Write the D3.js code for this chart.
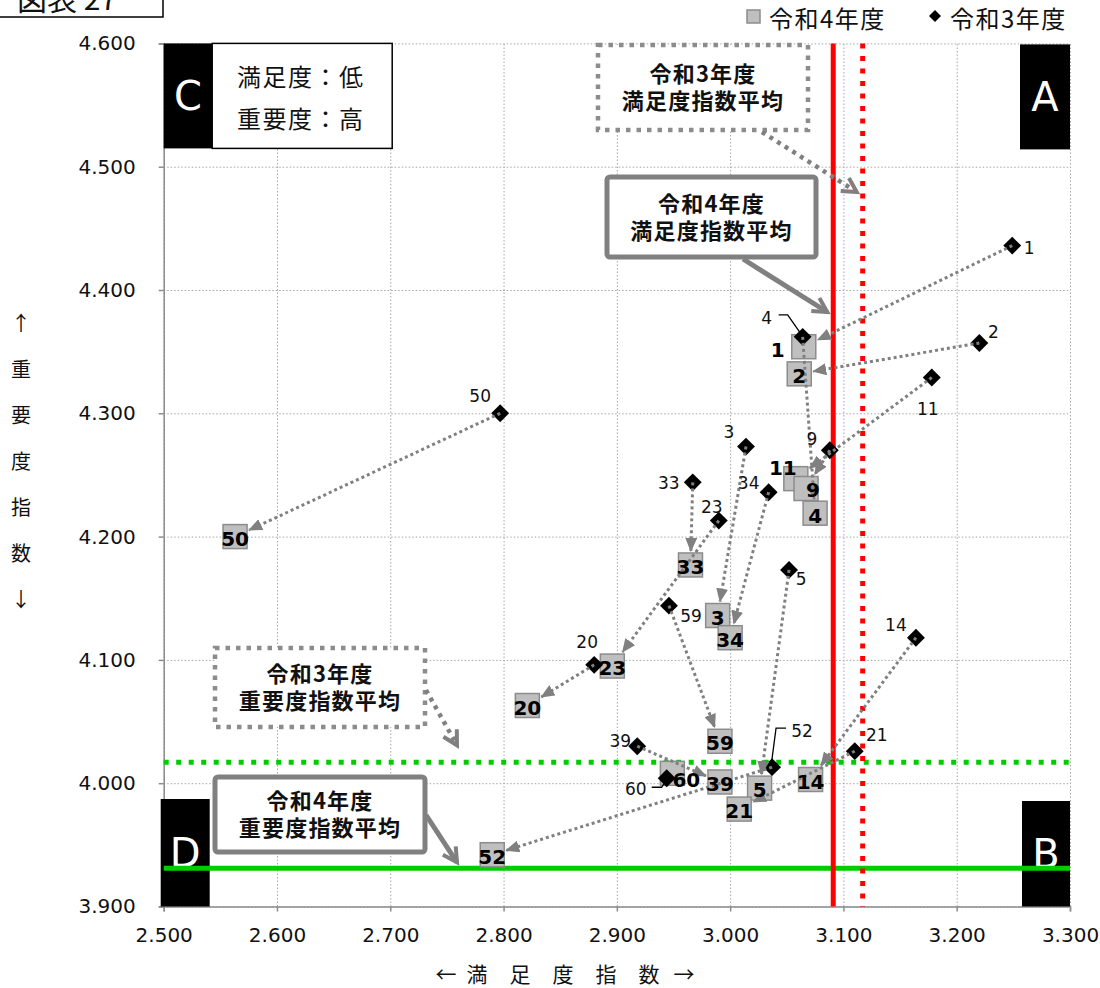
<!DOCTYPE html>
<html><head><meta charset="utf-8">
<script src="https://cdn.jsdelivr.net/npm/d3@7"></script>
<style>
html,body{margin:0;padding:0;background:#fff;}
svg{display:block;}
</style></head>
<body>
<svg id="chart" width="1100" height="988"></svg>
<script>
// ---------- data ----------
const ids   = ["1","2","11","4","9","3","34","33","23","5","59","20","50","14","21","52","39","60"];
const r3Sat = [3.249,3.220,3.178,3.064,3.088,3.014,3.034,2.967,2.990,3.052,2.946,2.880,2.797,3.164,3.110,3.037,2.918,2.944];
const r3Imp = [4.436,4.357,4.329,4.362,4.270,4.273,4.236,4.244,4.213,4.173,4.144,4.096,4.300,4.118,4.026,4.013,4.030,4.004];
const r4Sat = [3.065,3.061,3.058,3.075,3.067,2.989,3.000,2.965,2.896,3.026,2.991,2.821,2.563,3.071,3.008,2.790,2.991,2.949];
const r4Imp = [4.354,4.332,4.247,4.219,4.239,4.136,4.118,4.177,4.095,3.996,4.034,4.063,4.200,4.003,3.979,3.942,4.001,4.008];
const meanSatR4 = 3.091, meanSatR3 = 3.117;
const meanImpR4 = 3.931, meanImpR3 = 4.017;
const xTicks = [2.5,2.6,2.7,2.8,2.9,3.0,3.1,3.2,3.3];
const yTicks = [3.9,4.0,4.1,4.2,4.3,4.4,4.5,4.6];
const legendLabels = ["令和4年度","令和3年度"];
const xTitleChars = ["←","満","足","度","指","数","→"];
const yTitleChars = ["↑","重","要","度","指","数","↓"];
const figTitle = "図表 27";

// ---------- layout / style ----------
const L = 163.7, R = 1070, T = 43.4, B = 906.5;
const JP = "'Noto Sans CJK JP','Noto Sans',sans-serif";
const NUM = "'DejaVu Sans',Verdana,sans-serif";
const GRAY = "#808080";
const GREEN = "#00cc00", RED = "#ff0000";

// label offsets (pixels) relative to marker centre
const dLab = {"1":[17,2],"2":[14,-11],"11":[-4,31],"4":[-36,-19],"9":[-18,-11],"3":[-17,-15],"34":[-20,-9],
  "33":[-24,1],"23":[-7,-14],"5":[12,9],"59":[22,10],"20":[-7,-23],"50":[-20,-17],"14":[-20,-13],
  "21":[22,-16],"52":[30,-36],"39":[-17,-5],"60":[-31,11]};
const dLeader = {"4":[[-24,-22],[-15,-22],[-1,-2]],"52":[[14,-39],[4,-39],[-1,-1]],"60":[[-15,9],[-5,9],[0,1]]};
const sLab = {"1":[-26,3],"11":[-13,-11],"9":[7,1],"4":[0,3],"60":[14,7]};

const svg = d3.select("#chart");
const x = d3.scaleLinear().domain([2.5,3.3]).range([L,R]);
const y = d3.scaleLinear().domain([3.9,4.6]).range([B,T]);

// gridlines
svg.append("g").attr("transform",`translate(0,${B})`)
  .call(d3.axisBottom(x).tickValues(xTicks).tickSize(-(B-T)).tickFormat(""))
  .call(g=>g.select(".domain").remove())
  .selectAll("line").attr("stroke","#a6a6a6").attr("stroke-width",1).attr("stroke-dasharray","1.5,2");
svg.append("g").attr("transform",`translate(${L},0)`)
  .call(d3.axisLeft(y).tickValues(yTicks).tickSize(-(R-L)).tickFormat(""))
  .call(g=>g.select(".domain").remove())
  .selectAll("line").attr("stroke","#a6a6a6").attr("stroke-width",1).attr("stroke-dasharray","1.5,2");

// axes
const xa = svg.append("g").attr("transform",`translate(0,${B})`)
  .call(d3.axisBottom(x).tickValues(xTicks).tickSize(5).tickPadding(16).tickFormat(d3.format(".3f")));
const ya = svg.append("g").attr("transform",`translate(${L},0)`)
  .call(d3.axisLeft(y).tickValues(yTicks).tickSize(5).tickPadding(23).tickFormat(d3.format(".3f")));
[xa,ya].forEach(a=>{
  a.select(".domain").attr("stroke","#8c8c8c").attr("stroke-width",1.5);
  a.selectAll(".tick line").attr("stroke","#8c8c8c").attr("stroke-width",1.5);
  a.selectAll("text").attr("font-family",NUM).attr("font-size",20).attr("fill","#111");
});

// quadrant labels
function quad(letter,x0,y0,w,h){
  svg.append("rect").attr("x",x0).attr("y",y0).attr("width",w).attr("height",h).attr("fill","#000");
  svg.append("text").attr("x",x0+w/2).attr("y",y0+h/2).attr("text-anchor","middle")
    .attr("dominant-baseline","central").attr("fill","#fff").attr("font-family",NUM)
    .attr("font-size",40).text(letter);
}
quad("C",L,T,48.5,105);
svg.append("rect").attr("x",L+48.5).attr("y",T).attr("width",180).attr("height",105)
  .attr("fill","#fff").attr("stroke","#000").attr("stroke-width",1.5);
svg.append("text").attr("x",237).attr("y",75).attr("dominant-baseline","central")
  .attr("font-family",JP).attr("font-size",24).attr("letter-spacing",1.5).attr("fill","#111").text("満足度：低");
svg.append("text").attr("x",237).attr("y",117).attr("dominant-baseline","central")
  .attr("font-family",JP).attr("font-size",24).attr("letter-spacing",1.5).attr("fill","#111").text("重要度：高");
quad("A",1020,T+1,R-1020,105);
quad("D",L-3,799,49,B-799);
quad("B",1022,801,R-1022,B-801);

// mean lines
svg.append("line").attr("x1",L).attr("x2",R).attr("y1",y(meanImpR4)).attr("y2",y(meanImpR4))
  .attr("stroke",GREEN).attr("stroke-width",5);
svg.append("line").attr("x1",L).attr("x2",R).attr("y1",y(meanImpR3)).attr("y2",y(meanImpR3))
  .attr("stroke",GREEN).attr("stroke-width",5).attr("stroke-dasharray","5,7.5");
svg.append("line").attr("x1",x(meanSatR4)).attr("x2",x(meanSatR4)).attr("y1",T).attr("y2",B)
  .attr("stroke",RED).attr("stroke-width",5);
svg.append("line").attr("x1",x(meanSatR3)).attr("x2",x(meanSatR3)).attr("y1",T).attr("y2",B)
  .attr("stroke",RED).attr("stroke-width",5).attr("stroke-dasharray","5,7.5");

// callouts
function chevron(x1,y1,x2,y2,dash,sw){
  svg.append("line").attr("x1",x1).attr("y1",y1).attr("x2",x2).attr("y2",y2)
    .attr("stroke",GRAY).attr("stroke-width",sw).attr("stroke-dasharray",dash);
  const a = Math.atan2(y2-y1,x2-x1), len = 16, sp = 0.5;
  const p = [[x2-len*Math.cos(a-sp),y2-len*Math.sin(a-sp)],[x2,y2],[x2-len*Math.cos(a+sp),y2-len*Math.sin(a+sp)]];
  svg.append("path").attr("d",d3.line()(p)).attr("fill","none").attr("stroke",GRAY)
    .attr("stroke-width",4).attr("stroke-linejoin","miter");
}
function callout(x0,y0,w,h,lines,dotted){
  svg.append("rect").attr("x",x0).attr("y",y0).attr("width",w).attr("height",h).attr("rx",dotted?0:3)
    .attr("fill","#fff").attr("stroke",dotted?"#8c8c8c":"#808080").attr("stroke-width",dotted?4.5:5)
    .attr("stroke-dasharray",dotted?"4.5,6":null);
  const t = svg.append("text").attr("text-anchor","middle").attr("font-family",JP).attr("font-weight","bold")
    .attr("font-size",22).attr("letter-spacing",1.2).attr("fill","#111");
  lines.forEach((s,i)=>{
    t.append("tspan").attr("x",x0+w/2).attr("y",y0+h/2+(i-0.5)*27+8).text(s);
  });
}
callout(598,45,210,85,["令和3年度","満足度指数平均"],true);
chevron(762,132,x(meanSatR3)-6,192,"4,5",4.5);
callout(607,177,209,80,["令和4年度","満足度指数平均"],false);
chevron(743,259,x(meanSatR4)-6,312,null,5);
callout(215,648,210,79,["令和3年度","重要度指数平均"],true);
chevron(426,690,457,y(meanImpR3)-17,"4,5",4.5);
callout(215,777,210,75,["令和4年度","重要度指数平均"],false);
chevron(426,815,457,y(meanImpR4)-6,null,5);

// data rows
const rows = ids.map((id,i)=>({id, x3:x(r3Sat[i]), y3:y(r3Imp[i]), x4:x(r4Sat[i]), y4:y(r4Imp[i])}));
const SQ = 24;

// squares (令和4年度)
svg.append("g").selectAll("rect").data(rows).join("rect")
  .attr("x",d=>d.x4-SQ/2).attr("y",d=>d.y4-SQ/2).attr("width",SQ).attr("height",SQ)
  .attr("fill","#bfbfbf").attr("stroke","#8c8c8c").attr("stroke-width",1.5);

// diamonds (令和3年度)
const dia = d3.symbol().type(d3.symbolSquare).size(160);
svg.append("g").selectAll("path").data(rows).join("path")
  .attr("d",dia).attr("transform",d=>`translate(${d.x3},${d.y3}) rotate(45)`).attr("fill","#000");

// arrows
svg.append("defs").append("marker").attr("id","ah").attr("markerUnits","userSpaceOnUse")
  .attr("viewBox","0 0 14 12").attr("refX",13).attr("refY",6).attr("markerWidth",14).attr("markerHeight",12)
  .attr("orient","auto").append("path").attr("d","M0,0 L14,6 L0,12 Z").attr("fill",GRAY);
svg.append("g").selectAll("line").data(rows.filter(d=>Math.hypot(d.x4-d.x3,d.y4-d.y3)>25)).join("line")
  .each(function(d){
    const dx=d.x4-d.x3, dy=d.y4-d.y3, len=Math.hypot(dx,dy), ux=dx/len, uy=dy/len;
    const s=(SQ/2+2)/Math.max(Math.abs(ux),Math.abs(uy));
    d3.select(this).attr("x1",d.x3).attr("y1",d.y3).attr("x2",d.x4-ux*s).attr("y2",d.y4-uy*s);
  })
  .attr("stroke",GRAY).attr("stroke-width",3).attr("stroke-dasharray","3,3").attr("marker-end","url(#ah)");

// square labels
svg.append("g").selectAll("text").data(rows).join("text")
  .attr("x",d=>d.x4+(sLab[d.id]||[0,2])[0]).attr("y",d=>d.y4+(sLab[d.id]||[0,2])[1])
  .attr("text-anchor","middle").attr("dominant-baseline","central")
  .attr("font-family",NUM).attr("font-weight","bold").attr("font-size",20).attr("fill","#000")
  .text(d=>d.id);

// diamond labels
svg.append("g").selectAll("text").data(rows).join("text")
  .attr("x",d=>d.x3+dLab[d.id][0]).attr("y",d=>d.y3+dLab[d.id][1])
  .attr("text-anchor","middle").attr("dominant-baseline","central")
  .attr("font-family",NUM).attr("font-size",17).attr("fill","#111").text(d=>d.id);
svg.append("g").selectAll("path").data(rows.filter(d=>dLeader[d.id])).join("path")
  .attr("d",d=>d3.line()(dLeader[d.id].map(p=>[d.x3+p[0],d.y3+p[1]])))
  .attr("fill","none").attr("stroke","#000").attr("stroke-width",1.3);

// legend
svg.append("rect").attr("x",747).attr("y",10).attr("width",13).attr("height",13)
  .attr("fill","#bfbfbf").attr("stroke","#8c8c8c").attr("stroke-width",1.5);
svg.append("text").attr("x",769).attr("y",17).attr("dominant-baseline","central")
  .attr("font-family",JP).attr("font-size",24).attr("letter-spacing",1.5).attr("fill","#111").text(legendLabels[0]);
svg.append("path").attr("d",d3.symbol().type(d3.symbolSquare).size(72))
  .attr("transform","translate(935,16) rotate(45)").attr("fill","#000");
svg.append("text").attr("x",950).attr("y",17).attr("dominant-baseline","central")
  .attr("font-family",JP).attr("font-size",24).attr("letter-spacing",1.5).attr("fill","#111").text(legendLabels[1]);

// axis titles
const xtPos = [446,477,520,563,606,649,684];
svg.append("g").selectAll("text").data(xTitleChars).join("text")
  .attr("x",(d,i)=>xtPos[i]).attr("y",973).attr("text-anchor","middle").attr("dominant-baseline","central")
  .attr("font-family",JP).attr("font-size",21).attr("fill","#111").text(d=>d);
svg.append("g").selectAll("text").data(yTitleChars).join("text")
  .attr("x",21).attr("y",(d,i)=>322+i*46).attr("text-anchor","middle").attr("dominant-baseline","central")
  .attr("font-family",JP).attr("font-size",20).attr("fill","#111").text(d=>d);

// figure title box
svg.append("rect").attr("x",-2).attr("y",-10).attr("width",165).attr("height",27)
  .attr("fill","#fff").attr("stroke","#000").attr("stroke-width",1.5);
svg.append("text").attr("x",17).attr("y",10).attr("font-family",JP).attr("font-size",30)
  .attr("fill","#111").text(figTitle);
</script>
</body></html>
